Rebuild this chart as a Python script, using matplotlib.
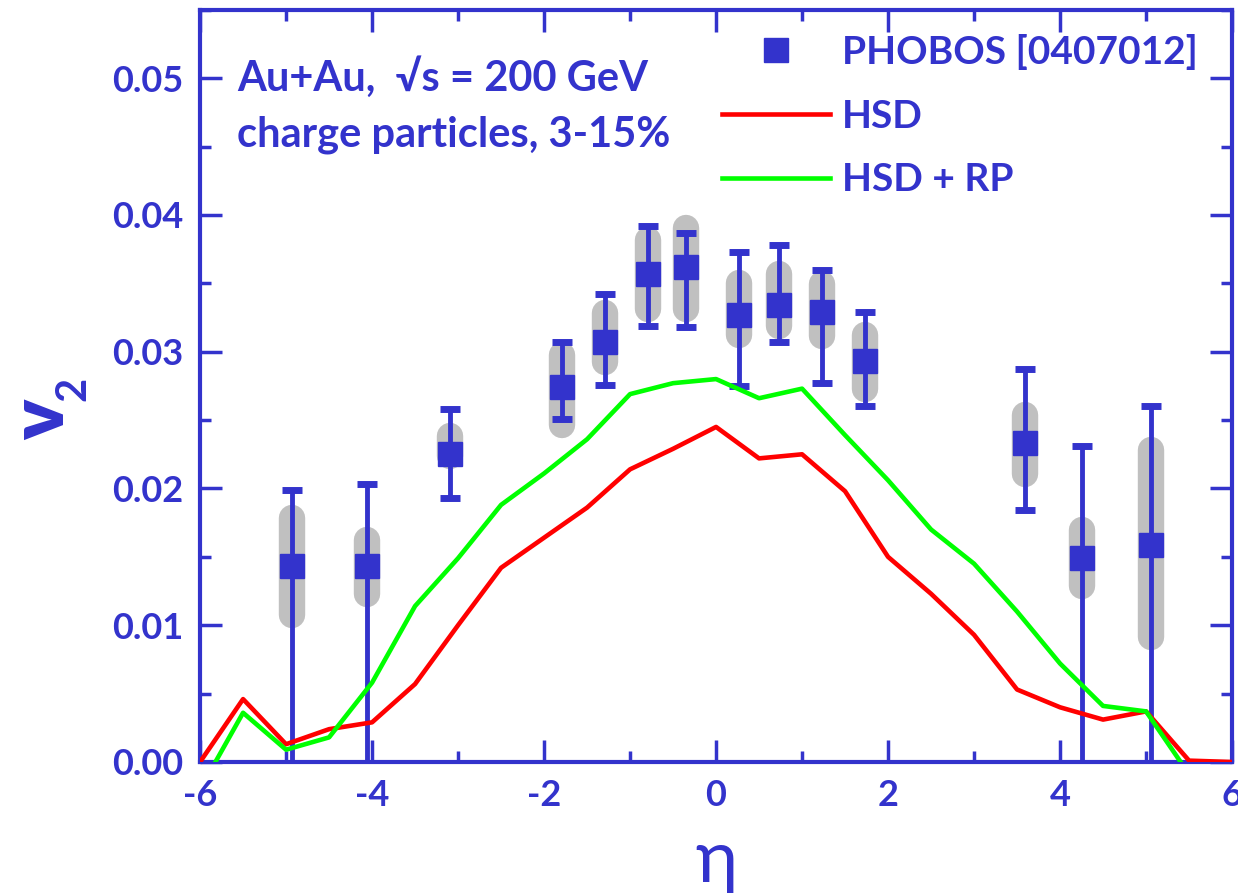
import numpy as np
import matplotlib.pyplot as plt
from matplotlib.ticker import MultipleLocator, FormatStrFormatter

# PHOBOS data points: eta, v2, stat error bar ends, systematic band ends
eta_ph = [-4.93, -4.06, -3.09, -1.79, -1.29, -0.79, -0.35, 0.27, 0.73, 1.23, 1.73, 3.59, 4.26, 5.06]
v2_ph = [0.0143, 0.0143, 0.0225, 0.0274, 0.0307, 0.0357, 0.0362, 0.0327, 0.0334, 0.0329, 0.0293, 0.0233, 0.0149, 0.0159]
stat_hi = [0.0199, 0.0203, 0.0258, 0.0307, 0.0342, 0.0392, 0.0387, 0.0373, 0.0378, 0.0360, 0.0329, 0.0287, 0.0231, 0.0260]
stat_lo = [-0.005, -0.005, 0.0193, 0.0251, 0.0276, 0.0319, 0.0318, 0.0275, 0.0307, 0.0277, 0.0260, 0.0184, -0.005, -0.005]
sys_hi = [0.0188, 0.0172, 0.0248, 0.0307, 0.0338, 0.0391, 0.0400, 0.0360, 0.0366, 0.0359, 0.0322, 0.0263, 0.0179, 0.0238]
sys_lo = [0.0098, 0.0113, 0.0214, 0.0237, 0.0283, 0.0322, 0.0322, 0.0303, 0.0309, 0.0302, 0.0263, 0.0201, 0.0119, 0.0082]

# HSD model curves
eta_hsd = [-6, -5.5, -5, -4.5, -4, -3.5, -3, -2.5, -2, -1.5, -1, -0.5, 0,
           0.5, 1, 1.5, 2, 2.5, 3, 3.5, 4, 4.5, 5, 5.5, 6]
v2_hsd = [0.0, 0.0046, 0.0013, 0.0024, 0.0029, 0.0057, 0.0100, 0.0142, 0.0164, 0.0186, 0.0214, 0.0229, 0.0245,
          0.0222, 0.0225, 0.0198, 0.0150, 0.0123, 0.0093, 0.0053, 0.0040, 0.0031, 0.0037, 0.0001, 0.0]
v2_rp = [-0.002, 0.0036, 0.0009, 0.0018, 0.0058, 0.0114, 0.0149, 0.0188, 0.0211, 0.0236, 0.0269, 0.0277, 0.0280,
         0.0266, 0.0273, 0.0239, 0.0206, 0.0170, 0.0145, 0.0110, 0.0072, 0.0041, 0.0037, -0.0009, -0.001]

blue = '#3333CC'
plt.rcParams['font.family'] = ['Lato', 'DejaVu Sans']

fig, ax = plt.subplots(figsize=(12.38, 8.93), dpi=100)
fig.subplots_adjust(left=0.1616, right=0.9952, top=0.989, bottom=0.1467)

# systematic bands (rounded gray bars); shrink by cap radius
cap = 0.00095
eta_ph = np.array(eta_ph)
for x, lo, hi in zip(eta_ph, sys_lo, sys_hi):
    ax.plot([x, x], [lo + cap, hi - cap], color='#C0C0C0', lw=19, solid_capstyle='round', zorder=2)

v2 = np.array(v2_ph)
yerr = [v2 - np.array(stat_lo), np.array(stat_hi) - v2]
ax.errorbar(eta_ph, v2, yerr=yerr, fmt='none', ecolor=blue, elinewidth=3.5,
            capsize=7, capthick=5, zorder=3)
ax.plot(eta_ph, v2, 's', color=blue, ms=17, zorder=4, label='PHOBOS [0407012]')

ax.plot(eta_hsd, v2_hsd, color='#FF0000', lw=3.3, zorder=5, label='HSD')
ax.plot(eta_hsd, v2_rp, color='#00FF00', lw=3.3, zorder=5, label='HSD + RP')

ax.set_xlim(-6, 6)
ax.set_ylim(0, 0.055)
ax.xaxis.set_major_locator(MultipleLocator(2))
ax.xaxis.set_minor_locator(MultipleLocator(1))
ax.yaxis.set_major_locator(MultipleLocator(0.01))
ax.yaxis.set_minor_locator(MultipleLocator(0.005))
ax.yaxis.set_major_formatter(FormatStrFormatter('%.2f'))
ax.xaxis.set_major_formatter(FormatStrFormatter('%d'))

for s in ax.spines.values():
    s.set_color(blue)
    s.set_linewidth(3)
ax.tick_params(which='both', direction='in', top=True, right=True, color=blue, width=2.5,
               labelcolor=blue, labelsize=26, pad=12)
ax.tick_params(which='major', length=16)
ax.tick_params(which='minor', length=8)
for lab in ax.get_xticklabels() + ax.get_yticklabels():
    lab.set_fontweight('bold')

# axis labels
fig.text(42 / 1238, 1 - 420 / 893, 'v', rotation=90, color=blue, fontsize=54, fontweight='heavy',
         ha='center', va='center')
fig.text(73 / 1238, 1 - 389 / 893, '2', rotation=90, color=blue, fontsize=30, fontweight='bold',
         ha='center', va='center')
fig.text(716 / 1238, 1 - 862 / 893, 'η', color=blue, fontsize=52, ha='center', va='center')

ax.text(0.036, 0.911, 'Au+Au,  √s = 200 GeV', transform=ax.transAxes, color=blue,
        fontsize=30, fontweight='bold', va='center', ha='left')
ax.text(0.036, 0.834, 'charge particles, 3-15%', transform=ax.transAxes, color=blue,
        fontsize=30, fontweight='bold', va='center', ha='left')

leg = ax.legend(loc='upper left', bbox_to_anchor=(0.506, 0.968), frameon=False,
                handlelength=2.78, handletextpad=0.3, labelspacing=0.74, borderaxespad=0,
                borderpad=0, prop={'weight': 'bold', 'size': 28})
for t in leg.get_texts():
    t.set_color(blue)

fig.savefig('out.png', dpi=100)
